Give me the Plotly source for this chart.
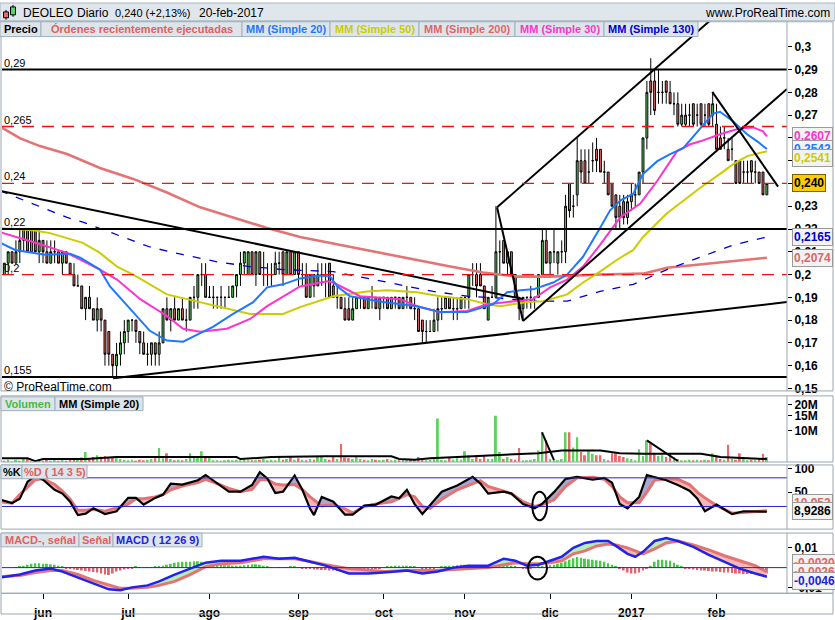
import numpy as np
import pandas as pd
import plotly.graph_objects as go

W, H = 835, 620
FONT = "Liberation Sans, Arial, sans-serif"

# ---------------- sessions / x axis ----------------
sessions = [d for d in pd.bdate_range("2016-05-18", "2017-02-20") if d != pd.Timestamp("2016-12-26")]
bar_pos = list(range(len(sessions)))
month_short = {1: "2017", 2: "feb", 6: "jun", 7: "jul", 8: "ago", 9: "sep", 10: "oct", 11: "nov", 12: "dic"}
month_ticks = [k for k in range(1, len(sessions)) if sessions[k].month != sessions[k - 1].month]
month_labels = [month_short[sessions[k].month] for k in month_ticks]

# ---------------- daily OHLC (thousandths of euro) ----------------
open_k = [200,205,210,205,210,215,220,210,220,210, 215,210,205,210,210,205,210,205,200,195,
          195,185,190,185,180,185,180,175,165,160, 165,170,175,180,180,175,170,165,165,170,
          165,170,185,180,185,180,185,180,180,190, 190,200,200,190,190,190,190,190,190,190,
          195,200,205,200,210,200,210,200,200,200, 200,205,210,200,210,200,210,200,200,190,
          200,195,200,200,205,195,190,190,185,185, 180,185,190,190,185,190,190,185,190,190,
          185,190,190,185,190,190,185,185,180,175, 175,175,180,185,185,190,185,185,185,190,
          190,200,200,200,195,180,190,190,210,215, 205,210,200,190,185,190,190,190,190,200,
          215,205,210,205,210,210,240,230,235,250, 250,245,250,255,255,245,245,240,235,230,
          232,225,232,235,235,245,260,285,285,280, 280,285,280,275,275,266,266,270,275,270,
          275,270,275,270,266,260,260,255,255,250, 250,245,245,250,245,245,245,235]
high_k = [205,210,210,215,220,220,220,220,220,220, 215,215,215,215,210,210,210,205,205,200,
          195,190,195,185,190,185,180,175,165,170, 175,180,180,180,180,175,175,170,170,170,
          175,185,190,185,190,185,190,185,190,195, 200,205,205,195,195,190,195,190,195,195,
          200,210,210,210,210,210,210,210,205,205, 210,210,210,210,210,210,210,205,205,200,
          200,205,205,205,205,200,195,190,190,190, 190,190,190,190,190,195,190,190,190,190,
          190,190,190,190,195,190,190,185,180,180, 180,185,190,190,190,190,190,190,190,190,
          200,205,205,205,195,190,195,230,215,215, 210,210,200,190,190,190,195,190,200,220,
          220,210,220,210,215,235,240,235,260,255, 255,255,258,260,255,250,245,240,235,235,
          235,235,240,240,245,260,285,295,290,290, 285,285,285,280,280,275,275,275,275,275,
          275,275,275,280,275,265,265,260,260,250, 250,250,250,250,250,245,245,240]
low_k = [200,200,205,205,205,210,210,210,210,205, 205,205,205,205,205,200,205,200,195,195,
         185,180,185,180,175,175,160,160,155,155, 160,165,170,175,170,165,165,160,160,160,
         160,170,180,175,180,180,180,175,180,185, 185,195,190,190,185,185,185,185,190,190,
         190,195,200,200,200,195,200,195,195,195, 200,200,195,200,200,200,195,195,190,190,
         190,195,195,190,190,190,185,185,180,180, 180,185,185,185,185,185,185,180,185,185,
         185,185,185,185,185,185,180,175,170,170, 175,175,175,180,185,185,180,180,185,185,
         185,195,190,195,185,180,190,190,200,205, 200,200,190,180,180,185,185,185,190,200,
         205,200,205,200,205,205,225,225,230,240, 240,240,245,245,245,240,235,230,220,220,
         222,222,228,230,235,240,255,270,270,275, 275,275,275,270,265,265,265,265,265,265,
         265,265,265,265,255,255,255,250,250,240, 240,240,240,240,240,240,235,235]
close_k = [205,210,205,210,215,220,210,220,210,215, 210,205,210,210,205,210,205,200,195,195,
           185,190,185,180,185,180,165,165,160,165, 170,175,180,180,175,170,165,165,170,165,
           170,185,180,185,180,185,180,180,190,190, 200,200,190,190,190,190,190,190,190,195,
           200,205,210,210,200,210,200,200,200,200, 205,205,200,210,200,210,200,200,190,200,
           195,200,200,200,190,190,190,185,180,180, 185,190,190,185,190,190,185,190,190,185,
           190,190,185,190,190,185,185,175,175,175, 175,180,185,185,190,185,185,185,190,190,
           200,200,195,195,185,190,190,210,210,205, 210,200,190,185,190,190,190,190,200,215,
           205,210,210,210,210,230,228,230,250,245, 240,245,250,250,245,245,235,230,225,225,
           225,232,235,235,245,260,280,280,272,280, 280,280,275,275,266,270,270,270,266,270,
           266,270,266,275,255,255,260,250,255,240, 240,245,245,245,245,240,235,240]

# volume, millions of shares
volume_m = [4.4,4.5,4.3,4.5,4.4, 4.6,4.6,4.3,4.4,4.5, 4.4,4.5,4.4,4.5,4.4, 4.5,4.4,4.5,4.6,4.7,
            4.8,5.55,4.7,4.85,5.1, 4.9,5.0,4.8,4.9,5.0, 4.6,4.5,4.45,4.5,4.4, 4.5,4.45,4.5,4.6,4.7,
            6.2,4.7,5.4,4.6,4.45, 4.5,4.45,4.6,5.4,4.85, 4.85,5.7,5.0,5.0,4.45, 4.45,4.4,4.45,4.5,4.45,
            4.5,4.45,4.5,4.45,4.45, 4.45,4.5,4.6,4.45,4.5, 4.45,5.0,4.5,4.6,5.0, 4.5,4.7,4.5,4.45,4.6,
            4.5,5.0,5.0,4.6,4.5, 5.0,4.6,6.9,4.8,4.7, 4.6,5.0,4.6,4.5,4.45, 4.6,4.5,4.45,4.5,4.6,
            4.45,4.5,4.45,4.6,4.45, 4.5,4.6,4.85,4.6,4.45, 4.5,4.6,13.8,4.5,4.45, 4.85,4.5,4.7,4.5,5.7,
            5.1,4.6,5.1,4.6,5.1, 4.6,4.6,14.9,5.55,4.6, 4.85,4.6,4.5,6.2,4.45, 4.45,4.5,4.6,5.8,9.5,
            7.6,4.6,4.45,4.45,4.6, 9.5,9.5,6.3,8.3,5.55, 5.1,5.8,5.3,5.1,5.1, 4.6,4.45,5.4,5.4,5.0,
            4.85,4.7,4.6,4.45,6.0, 5.0,7.65,7.0,5.3,5.0, 5.1,4.85,5.3,4.85,4.6, 4.45,4.45,4.5,4.45,4.5,
            4.45,4.5,4.45,5.4,5.1, 4.6,4.5,6.8,4.6,4.5, 5.4,4.6,4.45,4.5,4.45, 4.6,5.3,4.85]
vol_ma_pos = [-1, 6, 8, 10, 21, 29, 60, 61, 69, 83, 100, 102, 106, 110, 117, 128, 138, 144, 154, 159, 165, 180, 185, 197]
vol_ma_m = [4.7, 4.7, 4.35, 4.6, 4.6, 4.85, 4.85, 4.6, 4.85, 4.95, 4.95, 4.6, 4.5, 4.7, 4.85, 5.1, 5.4, 5.8, 5.8, 5.4, 5.3, 5.3, 4.85, 4.6]

# moving averages (bar position, price)
ma20_pos = [-1,2.8,10.5,17,19.6,24.7,27.3,33.3,37.6,42,46.2,48.8,53.9,59.1,64.3,67.9,72,76.4,81.6,84.2,86,89.3,97.9,106.6,112.6,119.6,123.7,126.3,129.9,133.3,136.6,141.8,145.4,149.5,153.9,156.5,159.1,162.5,165,168.7,172,175.4,179.8,183.1,184.9,188.3,191.9,194.5,197]
ma20_val = [0.2139,0.2108,0.2087,0.2091,0.2074,0.2022,0.1948,0.1835,0.1753,0.171,0.1705,0.1727,0.177,0.1827,0.1879,0.1944,0.1957,0.1983,0.1996,0.1991,0.1948,0.1905,0.1879,0.1861,0.1835,0.1835,0.1857,0.187,0.1922,0.1931,0.1935,0.1965,0.2,0.2078,0.2204,0.2282,0.2325,0.2355,0.2442,0.2498,0.2529,0.2555,0.2642,0.2707,0.2715,0.2672,0.2616,0.2585,0.2551]
ma30_pos = [-1.1,7.4,16.2,24.7,29.1,35.1,42,46.2,50.6,57.5,63.5,67.9,76.4,83.4,85,91.9,102.3,106.6,112.6,119.6,124.7,129.9,136.6,141,145.4,149.5,153.9,159.1,164.3,168.7,173.8,177.2,179.8,184.9,190.1,193.5,196,197]
ma30_val = [0.2186,0.2143,0.2095,0.2022,0.1978,0.1892,0.1818,0.1762,0.1749,0.1762,0.1805,0.1861,0.1948,0.197,0.1965,0.1905,0.1892,0.1861,0.1835,0.184,0.187,0.1879,0.1892,0.1944,0.1978,0.2035,0.213,0.2251,0.2312,0.2412,0.2542,0.2572,0.2585,0.2616,0.2642,0.2646,0.2629,0.2607]
ma50_pos = [-1.1,7.4,11.8,20.3,24.7,29.1,33.3,37.6,42,47.2,55,63.5,72,76.4,85,93.7,98.9,106.6,112.6,119.6,124.7,128.1,135.1,139.2,145.4,149.5,153.9,158.3,162.5,165,171.2,176.4,179.8,184.9,188.3,191.9,197]
ma50_val = [0.2204,0.2195,0.2182,0.2139,0.2095,0.2035,0.2,0.1957,0.1913,0.1892,0.1861,0.1827,0.1827,0.1857,0.1905,0.1926,0.1931,0.1922,0.1905,0.1892,0.187,0.1861,0.1879,0.1883,0.1913,0.1965,0.2013,0.2065,0.2108,0.2165,0.2269,0.2338,0.2381,0.2442,0.2485,0.252,0.2541]
ma200_pos = [-1.1,4.1,9.2,16.2,24.7,33.3,42,50.6,59.1,67.9,76.4,89.3,102.3,115.2,123.7,132.5,141,153.9,165,171.2,184.1,197]
ma200_val = [0.265,0.2598,0.2564,0.2529,0.2468,0.242,0.236,0.2295,0.2251,0.2204,0.2165,0.2121,0.2078,0.2035,0.2009,0.1991,0.1991,0.2,0.2004,0.203,0.2052,0.2074]
ma130_pos = [-1.1,7.4,16.2,20.3,29.1,37.6,46.2,55,63.5,72,85,97.9,110.8,119.6,128.1,136.6,145.4,153.9,162.5,171.2,179.8,188.3,197]
ma130_val = [0.2368,0.2312,0.2251,0.223,0.2173,0.2121,0.2087,0.2056,0.2035,0.2022,0.2013,0.197,0.1926,0.1905,0.1896,0.1883,0.1883,0.1926,0.1957,0.2022,0.2078,0.213,0.2165]

# horizontal levels drawn on the chart
levels_solid = [0.29, 0.22, 0.155]
levels_dashed = [0.265, 0.24, 0.2]
level_labels = ["0,29", "0,22", "0,155", "0,265", "0,24", "0,2"]

# hand-drawn trend lines (bar position, price) pairs
trend_lines = [
    ([-1.1, 134.0], [0.2368, 0.1892]),
    ([28.1, 202.2], [0.1545, 0.1879]),
    ([127.3, 134.0], [0.2295, 0.1796]),
    ([127.3, 186.0], [0.2295, 0.3170]),
    ([134.0, 202.2], [0.1796, 0.2815]),
    ([182.9, 199.9], [0.2802, 0.2386]),
]
vol_lines = [([138.9, 142.0], [9.5e6, 4.48e6]), ([166.0, 174.0], [7.65e6, 4.36e6])]

# stochastic %K / %D (14 3 5)
stoch_pos = [-1,2,4,6,8,10,13,15,17,19,21,23,26,29,32,34,36,39,41,43,46,50,52,55,58,61,64,66,68,70,72,75,77,79,80,82,85,88,90,93,96,100,102,104,106,108,110,113,117,121,123,125,129,131,134,137,139,142,145,148,152,155,157,159,161,164,166,168,171,174,177,179,181,184,188,191,194,197]
stoch_k = [34,27,36,72,84,76,55,47,30,2,5,16,4,10,38,38,24,38,45,68,66,75,86,68,51,51,65,92,78,48,51,85,55,15,2,40,30,3,3,22,24,41,37,55,25,4,22,51,64,82,68,47,51,47,25,16,26,50,78,82,76,80,70,25,16,40,86,82,75,65,53,37,10,24,4,10,9,8.93]
stoch_d = [30,27,45,60,76,78,66,52,35,12,12,14,10,17,25,36,36,40,45,55,63,70,77,68,58,51,56,76,76,67,65,66,55,40,33,21,24,15,6,20,25,30,37,45,40,20,16,35,55,68,74,62,52,47,30,20,24,34,62,80,81,77,62,40,28,28,50,75,78,77,66,50,38,22,6,8,10,10.95]

# MACD (12 26 9), units of 1e-4
macd_pos = [-1,4,8,12,15,19,23,27,30,33,37,40,44,48,52,56,61,64,67,71,75,78,83,89,94,98,104,108,112,116,120,125,129,132,135,138,141,144,147,150,153,156,158,161,163,165,168,171,174,178,182,186,190,194,197]
macd_e4 = [-50,-35,-15,-5,-20,-50,-80,-110,-115,-100,-90,-70,-35,-5,25,35,35,45,55,45,50,35,10,-30,-30,-25,-15,-30,-20,0,10,10,45,35,10,15,35,55,100,125,135,135,110,70,55,80,135,150,135,105,65,30,-5,-30,-46]
signal_e4 = [-45,-40,-25,-15,-15,-35,-65,-90,-105,-105,-100,-90,-70,-35,5,20,25,35,45,45,45,35,15,-5,-15,-20,-15,-15,-15,-10,-5,0,15,25,20,20,25,35,70,85,110,120,115,100,85,70,95,125,135,115,90,60,35,10,-22]
hist_e4 = [0,0,0,2.5, 5,10,15,20,22.5,22.5,20,20,17.5,15,10,5,
           -5,-7.5,-10,-12.5,-15,-17.5,-20,-22.5,-25,-30,-35,-37.5,-30,-20,-15,-10,-5,-2.5,
           5,1.5,0,1.5,
           2.5,5,7.5,10,15,20,25,27.5,30,30,30,32.5,32.5,30,25,22.5,20,17.5,15,12.5,12.5,10,10,10,12.5,15,17.5,17.5,15,10,5,2.5,0,
           2.5,2.5,2.5,5,5,1.5,
           -2.5,-5,-7.5,-10,-10,-12.5,-12.5,-15,-15,-17.5,-20,-20,-21.5,-20,-17.5,-15,-15,-12.5,-10,-7.5,-5,
           2.5,5,7.5,10,10,10,10,7.5,5,2.5,
           -5,-7.5,-10,-7.5,
           2.5,5,7.5,10,10,12.5,15,15,15,12.5,10,10,10,12.5,17.5,22.5,23.5,20,15,10,5,2.5,
           -5,-7.5,-5,
           2.5,5,7.5,10,12.5,15,20,25,32.5,40,47.5,53.5,50,45,42.5,40,37.5,35,30,22.5,15,7.5,
           -5,-15,-25,-30,-30,-25,-15,-7.5,
           10,30,40,40,37.5,35,25,15,7.5,
           -5,-7.5,-10,-12.5,-15,-15,-17.5,-20,-20,-22.5,-25,-25,-27.5,-30,-30,-32.5,-32.5,-32.5,-32.5,-30,-30,-30]

opens = np.array(open_k) / 1000
highs = np.array(high_k) / 1000
lows = np.array(low_k) / 1000
closes = np.array(close_k) / 1000
volume = np.array(volume_m) * 1e6
hist = np.array(hist_e4) * 1e-4

# ---------------- geometry helpers (layout only) ----------------
def PX(x):
    return x / W

def PY(y):
    return 1 - y / H

XD = [PX(2), PX(787)]
X_RANGE = [-0.6, 202.2]
PRICE_DOM = [PY(393), PY(19)]
VOL_DOM = [PY(465), PY(398)]
STO_DOM = [PY(533), PY(468)]
MACD_DOM = [PY(598), PY(537)]

GREEN = "#5fd35f"
RED = "#e86a6a"
MA20C = "#1e78ff"
MA50C = "#cccc00"
MA200C = "#e57373"
MA30C = "#ff33cc"
MA130C = "#0000cc"

fig = go.Figure()

# candles
fig.add_trace(go.Candlestick(
    x=bar_pos, open=opens, high=highs, low=lows, close=closes,
    increasing=dict(fillcolor=GREEN, line=dict(color="#000000", width=1)),
    decreasing=dict(fillcolor=RED, line=dict(color="#000000", width=1)),
    whiskerwidth=0, xaxis="x", yaxis="y", showlegend=False, hoverinfo="skip"))

def line(x, y, color, width, xa="x", ya="y", dash="solid"):
    fig.add_trace(go.Scatter(x=x, y=y, mode="lines", line=dict(color=color, width=width, dash=dash),
                             xaxis=xa, yaxis=ya, showlegend=False, hoverinfo="skip"))

line(ma200_pos, ma200_val, MA200C, 2.6)
line(ma130_pos, ma130_val, MA130C, 1.3, dash="8px,9px")
line(ma50_pos, ma50_val, MA50C, 2)
line(ma30_pos, ma30_val, MA30C, 2)
line(ma20_pos, ma20_val, MA20C, 2)
for xs, ys in trend_lines:
    line(xs, ys, "#000000", 2)

# volume
vol_colors = [GREEN if c >= o else RED for o, c in zip(opens, closes)]
fig.add_trace(go.Bar(x=bar_pos, y=volume, marker=dict(color=vol_colors, line=dict(width=0)), width=0.5,
                     xaxis="x2", yaxis="y2", showlegend=False, hoverinfo="skip"))
line(vol_ma_pos, np.array(vol_ma_m) * 1e6, "#000000", 2, "x2", "y2")
for xs, ys in vol_lines:
    line(xs, ys, "#000000", 2, "x2", "y2")

# band fill helper
def band(xs, a, b, col_up, col_dn, xa, ya):
    pts = [(xs[0], a[0], b[0])]
    for j in range(1, len(xs)):
        d0 = a[j - 1] - b[j - 1]
        d1 = a[j] - b[j]
        if d0 * d1 < 0:
            t = d0 / (d0 - d1)
            xc = xs[j - 1] + t * (xs[j] - xs[j - 1])
            yc = a[j - 1] + t * (a[j] - a[j - 1])
            pts.append((xc, yc, yc))
        pts.append((xs[j], a[j], b[j]))

    def up(k):
        return (pts[k][1] + pts[k + 1][1]) - (pts[k][2] + pts[k + 1][2]) >= 0

    runs, start, cur = [], 0, up(0)
    for k in range(1, len(pts) - 1):
        s = up(k)
        if s != cur:
            runs.append((start, k, cur))
            start, cur = k, s
    runs.append((start, len(pts) - 1, cur))
    for s, e, u in runs:
        seg = pts[s:e + 1]
        px = [p[0] for p in seg] + [p[0] for p in seg[::-1]]
        py = [p[1] for p in seg] + [p[2] for p in seg[::-1]]
        fig.add_trace(go.Scatter(x=px, y=py, fill="toself", fillcolor=col_up if u else col_dn,
                                 line=dict(width=0), mode="lines", xaxis=xa, yaxis=ya,
                                 showlegend=False, hoverinfo="skip"))

# stochastic
band(stoch_pos, stoch_k, stoch_d, "#a9a9cf", "#f5b8b8", "x3", "y3")
line(stoch_pos, stoch_d, "#e57373", 3, "x3", "y3")
line(stoch_pos, stoch_k, "#000000", 2.2, "x3", "y3")

# MACD
macd = np.array(macd_e4) * 1e-4
signal = np.array(signal_e4) * 1e-4
hist_colors = ["#44cc44" if v >= 0 else "#e06666" for v in hist]
fig.add_trace(go.Bar(x=bar_pos, y=hist, marker=dict(color=hist_colors, line=dict(width=0)), width=0.5,
                     xaxis="x4", yaxis="y4", showlegend=False, hoverinfo="skip"))
band(macd_pos, list(macd), list(signal), "#b4f0b4", "#f5b8b8", "x4", "y4")
line(macd_pos, signal, "#e57373", 3, "x4", "y4")
line(macd_pos, macd, "#2222ee", 2.5, "x4", "y4")

# ---------------- layout ----------------
bold12 = dict(family=FONT, size=12, color="#000000", weight="bold")
base_x = dict(range=X_RANGE, domain=XD, showgrid=False, zeroline=False, showline=False,
              showticklabels=False, ticks="", fixedrange=True)
base_y = dict(side="right", showgrid=False, zeroline=False, showline=False, ticks="outside",
              ticklen=4, tickcolor="#000000", tickfont=bold12, fixedrange=True)

price_ticks = [round(0.15 + 0.01 * k, 2) for k in range(16)]
covered = {0.24, 0.25, 0.26}   # hidden behind the value boxes in the original
price_text = ["" if v in covered else ("%g" % v).replace(".", ",") for v in price_ticks]

fig.update_layout(
    width=W, height=H, margin=dict(l=0, r=0, t=0, b=0),
    paper_bgcolor="#ffffff", plot_bgcolor="#ffffff", showlegend=False,
    font=dict(family=FONT, size=12, color="#000000"),
    xaxis=dict(base_x, anchor="y", rangeslider=dict(visible=False)),
    xaxis2=dict(base_x, anchor="y2"),
    xaxis3=dict(base_x, anchor="y3"),
    xaxis4=dict(base_x, anchor="y4", showticklabels=True, ticks="outside", ticklen=5,
                tickcolor="#000000", tickvals=month_ticks, ticktext=month_labels, tickfont=bold12,
                ticklabelstandoff=3),
    yaxis=dict(base_y, domain=PRICE_DOM, anchor="x", range=[0.1489, 0.311],
               tickvals=price_ticks, ticktext=price_text),
    yaxis2=dict(base_y, domain=VOL_DOM, anchor="x2", type="log", range=[6.628, 7.407],
                tickvals=[1e7, 1.5e7, 2e7], ticktext=["10M", "15M", "20M"]),
    yaxis3=dict(base_y, domain=STO_DOM, anchor="x3", range=[-27.5, 107],
                tickvals=[50, 100], ticktext=["50", "100"]),
    yaxis4=dict(base_y, domain=MACD_DOM, anchor="x4", range=[-0.013, 0.0175],
                tickvals=[0.01, -0.01], ticktext=["0,01", "-0,01"]),
)

shapes = []
annotations = []

# horizontal levels
for v in levels_solid:
    shapes.append(dict(type="line", xref="x domain", yref="y", x0=0, x1=1, y0=v, y1=v,
                       line=dict(color="#000000", width=2)))
for v in levels_dashed:
    shapes.append(dict(type="line", xref="x domain", yref="y", x0=0, x1=1, y0=v, y1=v,
                       line=dict(color="#ee1111", width=1.3, dash="12px,8px")))
for v, t in zip(levels_solid + levels_dashed, level_labels):
    annotations.append(dict(text=t, xref="paper", yref="y", x=PX(2), y=v, xanchor="left",
                            yanchor="bottom", showarrow=False, font=dict(family=FONT, size=11, color="#000"),
                            yshift=-1))

# stochastic 80 / 20 and MACD zero lines
for v in (80, 20):
    shapes.append(dict(type="line", xref="x3 domain", yref="y3", x0=0, x1=1, y0=v, y1=v,
                       line=dict(color="#2222cc", width=1)))
shapes.append(dict(type="line", xref="x4 domain", yref="y4", x0=0, x1=1, y0=0, y1=0,
                   line=dict(color="#2222cc", width=1)))

# ellipses
shapes.append(dict(type="circle", xref="x3", yref="y3", x0=136.4, x1=140.2, y0=-8.9, y1=51.1,
                   line=dict(color="#000000", width=2)))
shapes.append(dict(type="circle", xref="x4", yref="y4", x0=135.3, x1=140.2, y0=-0.006, y1=0.0055,
                   line=dict(color="#000000", width=2)))

# panel frames
FRAME = "#9aa6b0"
for top, bot in ((19, 393), (398, 465), (468, 533), (537, 598)):
    shapes.append(dict(type="rect", xref="paper", yref="paper", x0=PX(1), x1=PX(833), y0=PY(bot), y1=PY(top),
                       line=dict(color=FRAME, width=1), layer="above"))
    shapes.append(dict(type="line", xref="paper", yref="paper", x0=PX(787), x1=PX(787), y0=PY(bot), y1=PY(top),
                       line=dict(color=FRAME, width=1), layer="above"))
shapes.append(dict(type="rect", xref="paper", yref="paper", x0=PX(1), x1=PX(833), y0=PY(619), y1=PY(598),
                   line=dict(color=FRAME, width=1)))

# title bar
shapes.append(dict(type="rect", xref="paper", yref="paper", x0=0, x1=1, y0=PY(18), y1=1,
                   fillcolor="#dfe7ed", line=dict(color="#a9b6c0", width=1), layer="above"))
# icon
shapes.append(dict(type="line", xref="paper", yref="paper", x0=PX(6), x1=PX(6), y0=PY(17), y1=PY(7),
                   line=dict(color="#000", width=1), layer="above"))
shapes.append(dict(type="rect", xref="paper", yref="paper", x0=PX(3.5), x1=PX(8.5), y0=PY(15), y1=PY(9),
                   fillcolor="#e86a6a", line=dict(color="#000", width=1), layer="above"))
shapes.append(dict(type="line", xref="paper", yref="paper", x0=PX(13), x1=PX(13), y0=PY(14), y1=PY(2),
                   line=dict(color="#000", width=1), layer="above"))
shapes.append(dict(type="rect", xref="paper", yref="paper", x0=PX(10.5), x1=PX(15.5), y0=PY(12), y1=PY(4),
                   fillcolor="#5fd35f", line=dict(color="#000", width=1), layer="above"))

title_parts = [("DEOLEO", 22, 12), ("Diario", 76, 12), ("0,240 (+2,13%)", 114, 11), ("20-feb-2017", 198, 12)]
for t, x, fs in title_parts:
    annotations.append(dict(text=t, xref="paper", yref="paper", x=PX(x), y=PY(10), xanchor="left",
                            yanchor="middle", showarrow=False, borderpad=0,
                            font=dict(family=FONT, size=fs, color="#000")))
annotations.append(dict(text="www.ProRealTime.com", xref="paper", yref="paper", x=PX(831), y=PY(10),
                        xanchor="right", yanchor="middle", showarrow=False, borderpad=0,
                        font=dict(family=FONT, size=12, color="#000")))

# legend boxes
def legend_row(items, top, bot):
    for text, color, x0, x1 in items:
        shapes.append(dict(type="rect", xref="paper", yref="paper", x0=PX(x0), x1=PX(x1), y0=PY(bot), y1=PY(top),
                           fillcolor="#dde5eb", line=dict(color="#9fb0bd", width=1), layer="above"))
        annotations.append(dict(text=text, xref="paper", yref="paper", x=PX((x0 + x1) / 2), y=PY((top + bot) / 2),
                                xanchor="center", yanchor="middle", showarrow=False, borderpad=0,
                                font=dict(family=FONT, size=11, color=color, weight="bold")))

legend_row([("Precio", "#000000", 0, 41), ("Órdenes recientemente ejecutadas", "#e06060", 41, 242),
            ("MM (Simple 20)", MA20C, 242, 330), ("MM (Simple 50)", MA50C, 330, 419),
            ("MM (Simple 200)", "#e06666", 419, 515), ("MM (Simple 30)", MA30C, 515, 604),
            ("MM (Simple 130)", MA130C, 604, 698)], 19, 34)
legend_row([("Volumen", "#44bb44", 1, 55), ("MM (Simple 20)", "#000000", 55, 143)], 399, 413)
legend_row([("%K", "#000000", 1, 22), ("%D ( 14 3 5)", "#e06060", 22, 87)], 468, 482)
legend_row([("MACD-, señal", "#e06060", 1, 79), ("Señal", "#e06060", 79, 113),
            ("MACD ( 12 26 9)", "#2222dd", 113, 202)], 537, 551)

annotations.append(dict(text="© ProRealTime.com", xref="paper", yref="paper", x=PX(3), y=PY(389),
                        xanchor="left", yanchor="middle", showarrow=False, borderpad=0,
                        font=dict(family=FONT, size=12, color="#000")))

# right-hand value boxes
def value_box(text, yref, yval, color, bg="#f3f3f3", border="#9a9a9a"):
    annotations.append(dict(text=text, xref="paper", yref=yref, x=PX(792), y=yval, xanchor="left",
                            yanchor="middle", showarrow=False, bgcolor=bg, bordercolor=border,
                            borderwidth=1, borderpad=1,
                            font=dict(family=FONT, size=12, color=color, weight="bold")))

value_box("0,2607", "y", 0.2607, MA30C)
value_box("0,2542", "y", 0.2553, MA20C)
value_box("0,2541", "y", 0.2512, MA50C)
value_box("0,240", "y", 0.240, "#000000", bg="#ffcc00", border="#7a6000")
value_box("0,2165", "y", 0.2165, MA130C)
value_box("0,2074", "y", 0.2074, "#e06666")
value_box("-- -- --", "y2", 4.8e6, "#333333")
value_box("1.578k", "y2", 6.2e6, "#44bb44")
value_box("10,952", "y3", 26.3, "#e06666")
value_box("8,9286", "y3", 9.7, "#000000")
value_box("-0,0020", "y4", 0.0024, "#e06666")
value_box("-0,0026", "y4", -0.0021, "#e06666")
value_box("-0,0046", "y4", -0.0068, "#2222dd")

fig.update_layout(shapes=shapes, annotations=annotations)
fig.write_html("out.html", config={"displayModeBar": False})
